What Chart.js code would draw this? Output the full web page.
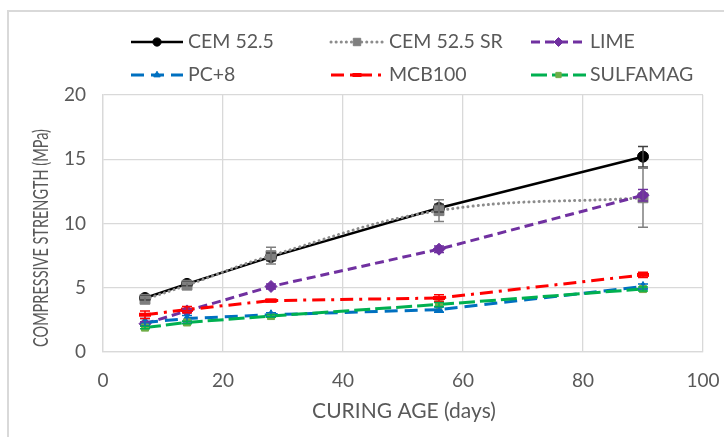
<!DOCTYPE html>
<html>
<head>
<meta charset="utf-8">
<script src="https://cdn.jsdelivr.net/npm/chart.js@4/dist/chart.umd.min.js"></script>
<style>
  html, body { margin: 0; padding: 0; background: #fff; }
  #wrap { position: relative; width: 724px; height: 437px; }
</style>
</head>
<body>
<div id="wrap"><canvas id="c" width="724" height="437"></canvas></div>
<script>
// Curing ages (days)
const ages = [7, 14, 28, 56, 90];

// Compressive strength (MPa) per binder
const cem525     = [4.2, 5.3, 7.4, 11.2, 15.2];
const cem525sr   = [4.1, 5.2, 7.5, 11.0, 12.0];
const lime       = [2.2, 3.2, 5.1, 8.0, 12.2];
const pc8        = [2.3, 2.6, 2.9, 3.3, 5.1];
const mcb100     = [2.9, 3.3, 4.0, 4.2, 6.0];
const sulfamag   = [1.9, 2.3, 2.8, 3.7, 4.9];

// Standard deviations (MPa)
const cem525Err   = [0.15, 0.15, 0.3, 0.3, 0.8];
const cem525srErr = [0.2, 0.2, 0.65, 0.85, 2.3];
const limeErr     = [0.15, 0.15, 0.2, 0.25, 0.45];
const pc8Err      = [0.3, 0.25, 0.15, 0.2, 0.2];
const mcb100Err   = [0.3, 0.25, 0.1, 0.25, 0.2];
const sulfamagErr = [0.1, 0.1, 0.1, 0.15, 0.15];

// Axis ticks
const xTicks = [0, 20, 40, 60, 80, 100];
const yTicks = [0, 5, 10, 15, 20];

const FONT = "Lato, 'Open Sans', sans-serif";
const TXT = '#595959';

const pts = arr => arr.map((v, i) => ({ x: ages[i], y: v }));

// later series are painted on top (higher order = drawn earlier)
const datasets = [
  { label: 'CEM 52.5', data: pts(cem525), err: cem525Err, borderColor: '#000000', backgroundColor: '#000000',
    borderWidth: 2.5, pointStyle: 'circle', pointRadius: 5.5, errColor: '#404040', order: 6 },
  { label: 'CEM 52.5 SR', data: pts(cem525sr), err: cem525srErr, borderColor: '#8c8c8c', backgroundColor: '#7f7f7f',
    borderWidth: 3, borderDash: [0.1, 5], borderCapStyle: 'round', tension: 0.4, pointStyle: 'rect', pointRadius: 7,
    errColor: '#7f7f7f', order: 5 },
  { label: 'LIME', data: pts(lime), err: limeErr, borderColor: '#7030a0', backgroundColor: '#7030a0',
    borderWidth: 3, borderDash: [9, 5], pointStyle: 'rectRot', pointRadius: 6, errColor: '#7030a0', order: 4 },
  { label: 'PC+8', data: pts(pc8), err: pc8Err, borderColor: '#0070c0', backgroundColor: '#0070c0',
    borderWidth: 3, borderDash: [13, 7], pointStyle: 'triangle', pointRadius: 5, errColor: '#0070c0', order: 3 },
  { label: 'MCB100', data: pts(mcb100), err: mcb100Err, borderColor: '#ff0000', backgroundColor: '#ff0000',
    borderWidth: 3, borderDash: [13, 6, 3, 6], pointStyle: 'line', pointRadius: 6, pointBorderWidth: 4,
    pointBorderColor: '#ff0000', errColor: '#ff0000', order: 2 },
  { label: 'SULFAMAG', data: pts(sulfamag), err: sulfamagErr, borderColor: '#00b050', backgroundColor: '#70ad47',
    borderWidth: 3, borderDash: [16, 5], pointStyle: 'rect', pointRadius: 5, pointBorderColor: '#70ad47',
    errColor: '#00b050', order: 1 }
];
datasets.forEach(d => {
  d.fill = false;
  if (!d.pointBorderColor) d.pointBorderColor = d.backgroundColor;
  if (d.pointBorderWidth === undefined) d.pointBorderWidth = 1;
});

// Error bars drawn through the chart scales
const errorBars = {
  id: 'errorBars',
  afterDatasetsDraw(chart) {
    const { ctx, scales: { x, y } } = chart;
    ctx.save();
    chart.data.datasets.forEach(ds => {
      ds.data.forEach((p, i) => {
        const e = ds.err[i];
        const px = x.getPixelForValue(p.x);
        const yt = y.getPixelForValue(p.y + e);
        const yb = y.getPixelForValue(p.y - e);
        ctx.strokeStyle = ds.errColor;
        ctx.lineWidth = 1.5;
        ctx.setLineDash([]);
        ctx.beginPath();
        ctx.moveTo(px, yt); ctx.lineTo(px, yb);
        ctx.moveTo(px - 5, yt); ctx.lineTo(px + 5, yt);
        ctx.moveTo(px - 5, yb); ctx.lineTo(px + 5, yb);
        ctx.stroke();
      });
    });
    ctx.restore();
  }
};

// Two-row legend, axis titles and chart frame
const decorations = {
  id: 'decorations',
  afterDraw(chart) {
    const { ctx, chartArea } = chart;
    ctx.save();
    // frame
    ctx.strokeStyle = '#d9d9d9';
    ctx.lineWidth = 2;
    ctx.setLineDash([]);
    ctx.beginPath();
    ctx.moveTo(8, 437); ctx.lineTo(8, 11); ctx.lineTo(724, 11);
    ctx.stroke();

    // axis titles
    ctx.fillStyle = TXT;
    ctx.textAlign = 'center';
    ctx.textBaseline = 'middle';
    ctx.font = `21px ${FONT}`;
    ctx.fillText('CURING AGE (days)', (chartArea.left + chartArea.right) / 2 + 1, 411);
    ctx.translate(41, 238);
    ctx.rotate(-Math.PI / 2);
    ctx.scale(1, 1.4);
    ctx.font = `14.5px ${FONT}`;
    ctx.fillText('COMPRESSIVE STRENGTH (MPa)', 0, 0);
    ctx.setTransform(1, 0, 0, 1, 0, 0);

    // legend
    const cols = [[131, 183, 188], [331, 383, 389], [531, 586, 590]];
    const rows = [42, 75];
    chart.data.datasets.forEach((ds, i) => {
      const [x0, x1, tx] = cols[i % 3];
      const yy = rows[Math.floor(i / 3)];
      ctx.strokeStyle = ds.borderColor;
      ctx.lineWidth = ds.borderWidth;
      ctx.lineCap = ds.borderCapStyle || 'butt';
      ctx.setLineDash(ds.borderDash || []);
      ctx.beginPath();
      ctx.moveTo(x0, yy); ctx.lineTo(x1, yy);
      ctx.stroke();
      ctx.setLineDash([]);
      ctx.lineCap = 'butt';
      ctx.fillStyle = ds.backgroundColor;
      ctx.strokeStyle = ds.pointBorderColor;
      ctx.lineWidth = ds.pointBorderWidth;
      Chart.helpers.drawPoint(ctx, {
        pointStyle: ds.pointStyle, radius: ds.pointRadius * 0.75, rotation: 0, borderWidth: ds.pointBorderWidth
      }, (x0 + x1) / 2, yy);
      ctx.fillStyle = TXT;
      ctx.font = `19.5px ${FONT}`;
      ctx.textAlign = 'left';
      ctx.textBaseline = 'middle';
      ctx.fillText(ds.label, tx, yy);
    });
    ctx.restore();
  }
};

new Chart(document.getElementById('c'), {
  type: 'line',
  data: { datasets },
  plugins: [errorBars, decorations],
  options: {
    responsive: false,
    animation: false,
    layout: { padding: { left: 0, top: 95, right: 21, bottom: 0 } },
    plugins: { legend: { display: false }, tooltip: { enabled: false } },
    scales: {
      x: {
        type: 'linear', min: 0, max: 100,
        afterBuildTicks: s => { s.ticks = xTicks.map(v => ({ value: v })); },
        afterFit: s => { s.height = 85; s.paddingLeft = 0; s.paddingRight = 0; },
        grid: { color: '#d9d9d9', lineWidth: 1.3, drawTicks: false },
        border: { color: '#d9d9d9', width: 1.3 },
        ticks: { color: TXT, font: { family: FONT, size: 19 }, padding: 17, maxRotation: 0 }
      },
      y: {
        type: 'linear', min: 0, max: 20,
        afterBuildTicks: s => { s.ticks = yTicks.map(v => ({ value: v })); },
        afterFit: s => { s.width = 103; s.paddingTop = 0; s.paddingBottom = 0; },
        grid: { color: '#d9d9d9', lineWidth: 1.3, drawTicks: false },
        border: { color: '#d9d9d9', width: 1.3 },
        ticks: { color: TXT, font: { family: FONT, size: 19 }, padding: 17 }
      }
    }
  }
});
</script>
</body>
</html>
